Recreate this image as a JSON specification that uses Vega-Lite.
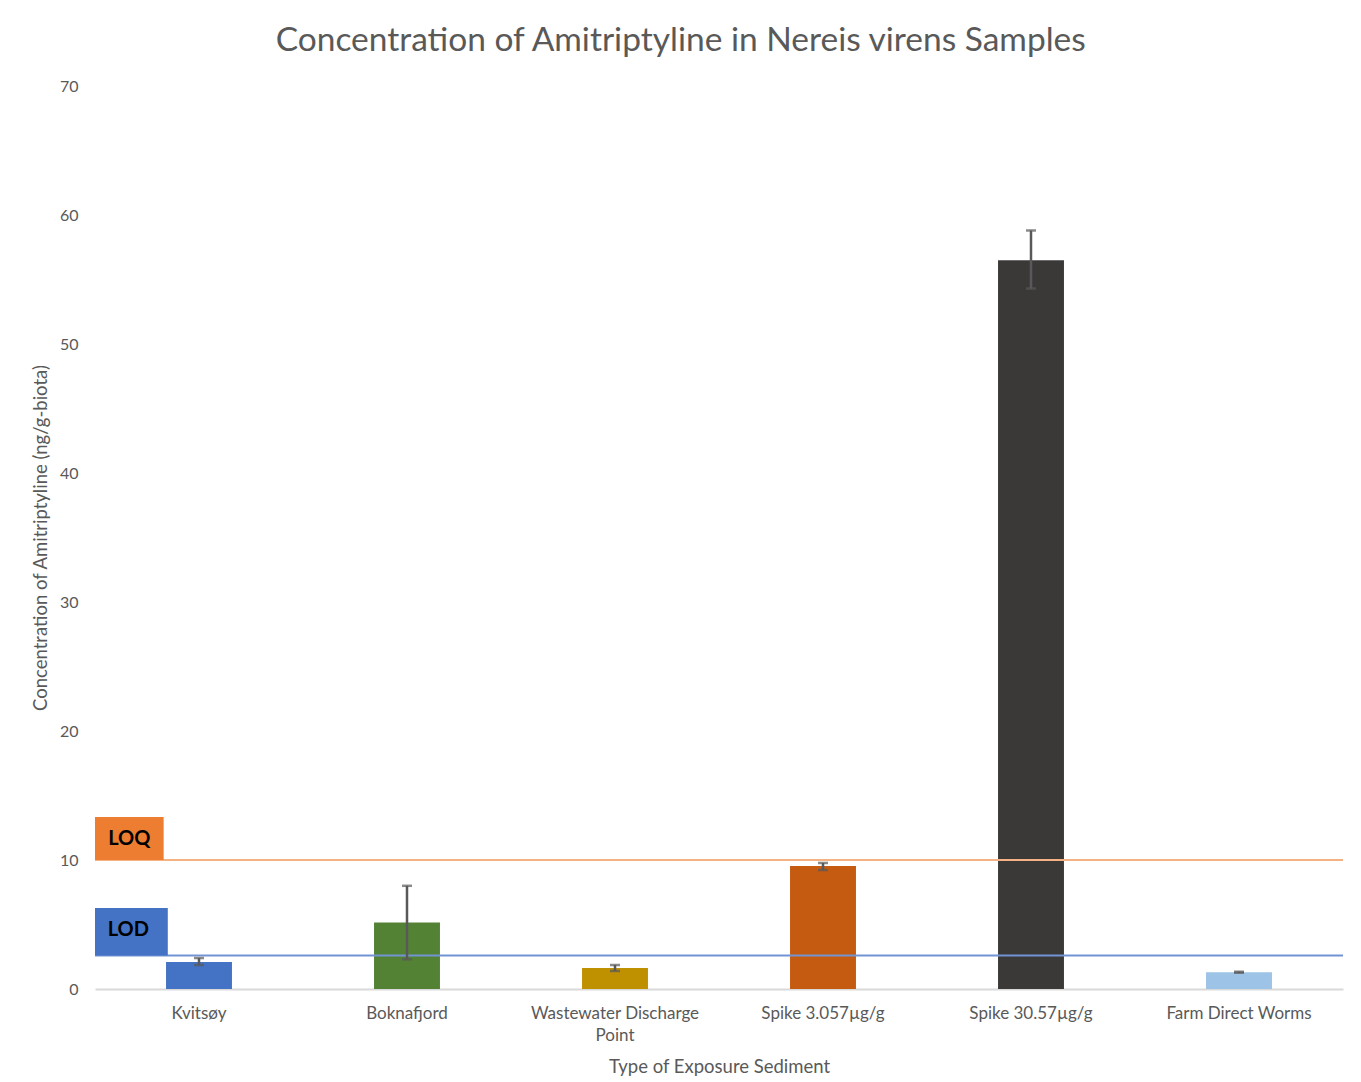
{
  "$schema": "https://vega.github.io/schema/vega-lite/v6.json",
  "width": 1248,
  "height": 903,
  "autosize": {"type": "none"},
  "padding": {"left": 95, "top": 86, "right": 18, "bottom": 93},
  "background": "white",
  "title": {
    "text": "Concentration of Amitriptyline in Nereis virens Samples",
    "font": "Lato",
    "fontSize": 33.5,
    "fontWeight": "normal",
    "color": "#595959",
    "anchor": "middle",
    "frame": "bounds",
    "offset": 20,
    "dx": -7
  },
  "config": {"font": "Lato", "view": {"stroke": null}},
  "datasets": {
    "bars": [
      {"site": "Kvitsøy", "mean": 2.1, "lo": 1.86, "hi": 2.4},
      {"site": "Boknafjord", "mean": 5.15, "lo": 2.3, "hi": 8.0},
      {"site": "Wastewater Discharge Point", "mean": 1.63, "lo": 1.4, "hi": 1.86},
      {"site": "Spike 3.057µg/g", "mean": 9.53, "lo": 9.22, "hi": 9.77},
      {"site": "Spike 30.57µg/g", "mean": 56.5, "lo": 54.3, "hi": 58.8},
      {"site": "Farm Direct Worms", "mean": 1.3, "lo": 1.26, "hi": 1.34}
    ],
    "limits": [
      {"limit": "LOQ", "value": 10},
      {"limit": "LOD", "value": 2.6}
    ]
  },
  "resolve": {"scale": {"x": "independent", "color": "independent"}},
  "layer": [
    {
      "layer": [
        {
          "data": {"name": "bars"},
          "mark": {"type": "bar"},
          "encoding": {
            "x": {
              "field": "site",
              "type": "nominal",
              "sort": null,
              "scale": {"paddingInner": 0.683, "paddingOuter": 0.3415},
              "axis": {
                "title": "Type of Exposure Sediment",
                "titleFont": "Lato",
                "titleFontSize": 18.5,
                "titleFontWeight": "normal",
                "titleColor": "#595959",
                "titlePadding": 14,
                "labelFont": "Lato",
                "labelFontSize": 17,
                "labelColor": "#595959",
                "labelAngle": 0,
                "labelPadding": 16,
                "labelLineHeight": 22,
                "labelExpr": "datum.label == 'Wastewater Discharge Point' ? ['Wastewater Discharge', 'Point'] : datum.label",
                "ticks": false,
                "domainColor": "#D9D9D9",
                "domainWidth": 2,
                "grid": false
              }
            },
            "y": {
              "field": "mean",
              "type": "quantitative",
              "title": "Concentration of Amitriptyline (ng/g-biota)",
              "scale": {"domain": [0, 70], "nice": false},
              "axis": {
                "titleFont": "Lato",
                "titleFontSize": 18.5,
                "titleFontWeight": "normal",
                "titleColor": "#595959",
                "titlePadding": 9,
                "values": [0, 10, 20, 30, 40, 50, 60, 70],
                "labelFont": "Lato",
                "labelFontSize": 16,
                "labelColor": "#595959",
                "labelPadding": 17,
                "ticks": false,
                "domain": false,
                "grid": false
              }
            },
            "color": {
              "field": "site",
              "type": "nominal",
              "sort": null,
              "scale": {
                "domain": ["Kvitsøy", "Boknafjord", "Wastewater Discharge Point", "Spike 3.057µg/g", "Spike 30.57µg/g", "Farm Direct Worms"],
                "range": ["#4472C4", "#548235", "#BF9000", "#C55A11", "#3B3838", "#9DC3E6"]
              },
              "legend": null
            }
          }
        },
        {
          "data": {"name": "limits"},
          "mark": {"type": "rule", "strokeWidth": 2},
          "encoding": {
            "y": {"field": "value", "type": "quantitative", "title": "Concentration of Amitriptyline (ng/g-biota)"},
            "stroke": {
              "field": "limit",
              "type": "nominal",
              "scale": {"domain": ["LOQ", "LOD"], "range": ["#F4B183", "#7394D4"]},
              "legend": null
            }
          }
        },
        {
          "data": {"name": "bars"},
          "mark": {"type": "errorbar", "ticks": {"size": 10}, "thickness": 2.5, "color": "#595959"},
          "encoding": {
            "x": {"field": "site", "type": "nominal", "sort": null},
            "y": {"field": "lo", "type": "quantitative", "title": "Concentration of Amitriptyline (ng/g-biota)"},
            "y2": {"field": "hi"}
          }
        }
      ]
    },
    {
      "layer": [
        {
          "data": {"name": "limits"},
          "transform": [{"filter": "datum.limit == 'LOQ'"}],
          "mark": {"type": "rect", "color": "#ED7D31"},
          "encoding": {
            "x": {"datum": 0, "type": "quantitative", "scale": {"domain": [0, 6]}, "axis": null},
            "x2": {"datum": 0.33},
            "y": {"field": "value", "type": "quantitative"},
            "y2": {"datum": 13.33}
          }
        },
        {
          "data": {"name": "limits"},
          "transform": [{"filter": "datum.limit == 'LOD'"}],
          "mark": {"type": "rect", "color": "#4472C4"},
          "encoding": {
            "x": {"datum": 0, "type": "quantitative"},
            "x2": {"datum": 0.35},
            "y": {"field": "value", "type": "quantitative"},
            "y2": {"datum": 6.28}
          }
        },
        {
          "data": {"name": "limits"},
          "transform": [{"filter": "datum.limit == 'LOQ'"}],
          "mark": {"type": "text", "font": "Lato", "fontSize": 20, "fontWeight": "bold", "color": "#000000", "align": "center", "baseline": "middle"},
          "encoding": {
            "x": {"datum": 0.165, "type": "quantitative"},
            "y": {"datum": 11.65, "type": "quantitative"},
            "text": {"field": "limit"}
          }
        },
        {
          "data": {"name": "limits"},
          "transform": [{"filter": "datum.limit == 'LOD'"}],
          "mark": {"type": "text", "font": "Lato", "fontSize": 20, "fontWeight": "bold", "color": "#000000", "align": "center", "baseline": "middle"},
          "encoding": {
            "x": {"datum": 0.16, "type": "quantitative"},
            "y": {"datum": 4.6, "type": "quantitative"},
            "text": {"field": "limit"}
          }
        }
      ]
    }
  ]
}
